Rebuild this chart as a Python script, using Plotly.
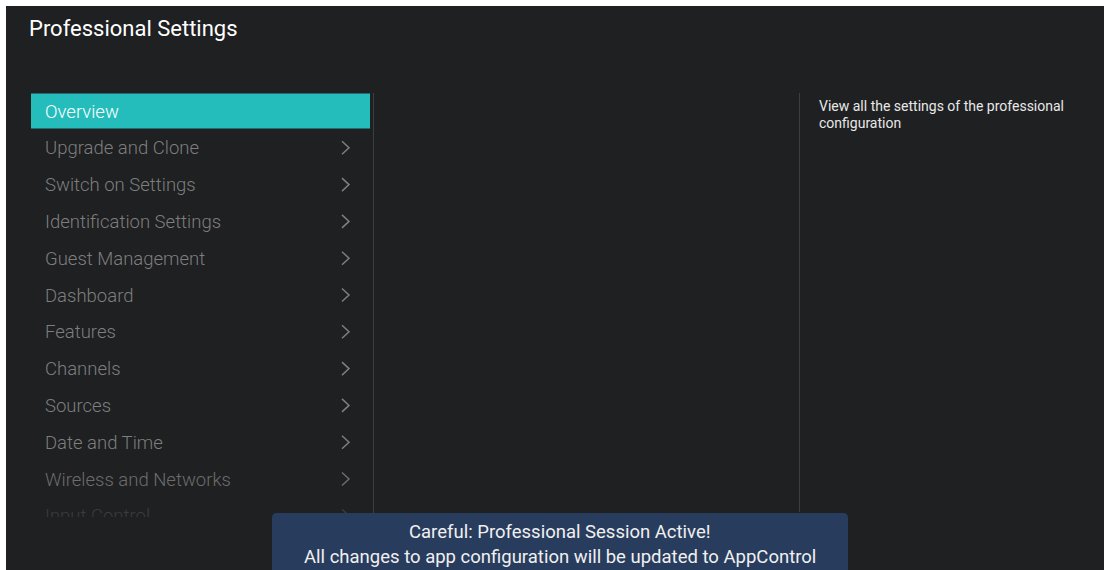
import plotly.graph_objects as go

# ---- content ----
title_text = "Professional Settings"
menu_items = [
    "Overview", "Upgrade and Clone", "Switch on Settings", "Identification Settings",
    "Guest Management", "Dashboard", "Features", "Channels", "Sources",
    "Date and Time", "Wireless and Networks", "Input Control",
]
selected_index = 0
has_submenu = [False] + [True] * 11
description_lines = ["View all the settings of the professional", "configuration"]
banner_lines = [
    "Careful: Professional Session Active!",
    "All changes to app configuration will be updated to AppControl",
]

# ---- style / layout ----
W, H = 1104, 570
BG = "#1f2022"
TEAL = "#25bdbb"
ITEM_GRAY = "#7e7e7e"
DIVIDER = "#3d3e40"
BANNER = "#283c5e"
FONT = "Roboto"
ROW0, STEP = 111, 36.8
TEXT_X = 45
CHEV_X = 342
LIST_CLIP = 517

row_y = [ROW0 + i * STEP for i in range(len(menu_items))]
item_colors = []
for i, _ in enumerate(menu_items):
    if i == selected_index:
        item_colors.append("#ffffff")
    elif i == len(menu_items) - 1:
        item_colors.append("#3c3c3c")
    elif i == len(menu_items) - 2:
        item_colors.append("#6c6c6c")
    else:
        item_colors.append(ITEM_GRAY)

fig = go.Figure()

# chevrons
for i, y in enumerate(row_y):
    if has_submenu[i]:
        fig.add_trace(go.Scatter(
            x=[CHEV_X, CHEV_X + 7, CHEV_X], y=[y - 6.5, y, y + 6.5],
            mode="lines", line=dict(color=item_colors[i], width=1.5),
            hoverinfo="skip"))

# menu text
fig.add_trace(go.Scatter(
    x=[TEXT_X] * len(menu_items), y=[y + 2 for y in row_y], text=menu_items,
    mode="text", textposition="middle right",
    textfont=dict(family=FONT, size=18.5, color=item_colors, weight=300),
    hoverinfo="skip"))

shapes = [
    dict(type="rect", x0=6, x1=W, y0=6, y1=H, fillcolor=BG, line_width=0, layer="below"),
    dict(type="rect", x0=31, x1=370, y0=row_y[selected_index] - 17.5,
         y1=row_y[selected_index] + 17.5, fillcolor=TEAL, line_width=0, layer="below"),
    dict(type="line", x0=373.5, x1=373.5, y0=93, y1=LIST_CLIP, line=dict(color=DIVIDER, width=1), layer="below"),
    dict(type="line", x0=799.5, x1=799.5, y0=93, y1=512, line=dict(color=DIVIDER, width=1), layer="below"),
    # clip list bottom
    dict(type="rect", x0=6, x1=372, y0=LIST_CLIP, y1=H, fillcolor=BG, line_width=0, layer="above"),
    # banner with rounded top corners
    dict(type="path",
         path="M 272 575 L 272 518 Q 272 513 277 513 L 843 513 Q 848 513 848 518 L 848 575 Z",
         fillcolor=BANNER, line_width=0, layer="above"),
]

annotations = [
    dict(x=27, y=28, text=title_text, showarrow=False, xanchor="left", yanchor="middle",
         font=dict(family=FONT, size=22, color="#ffffff")),
]
for j, line in enumerate(description_lines):
    annotations.append(dict(x=817, y=106 + j * 16.5, text=line, showarrow=False,
                            xanchor="left", yanchor="middle",
                            font=dict(family=FONT, size=14, color="#e8e8e8")))
for j, line in enumerate(banner_lines):
    annotations.append(dict(x=560, y=532 + j * 25, text=line, showarrow=False,
                            xanchor="center", yanchor="middle",
                            font=dict(family=FONT, size=18.5, color="#f0f0f0")))

fig.update_layout(
    width=W, height=H, margin=dict(l=0, r=0, t=0, b=0),
    paper_bgcolor="#ffffff", plot_bgcolor="rgba(0,0,0,0)",
    showlegend=False, shapes=shapes, annotations=annotations,
    xaxis=dict(range=[0, W], visible=False, fixedrange=True),
    yaxis=dict(range=[H, 0], visible=False, fixedrange=True),
)

fig.write_html("out.html", config={"displayModeBar": False},
               post_script="document.body.style.margin='0';")
